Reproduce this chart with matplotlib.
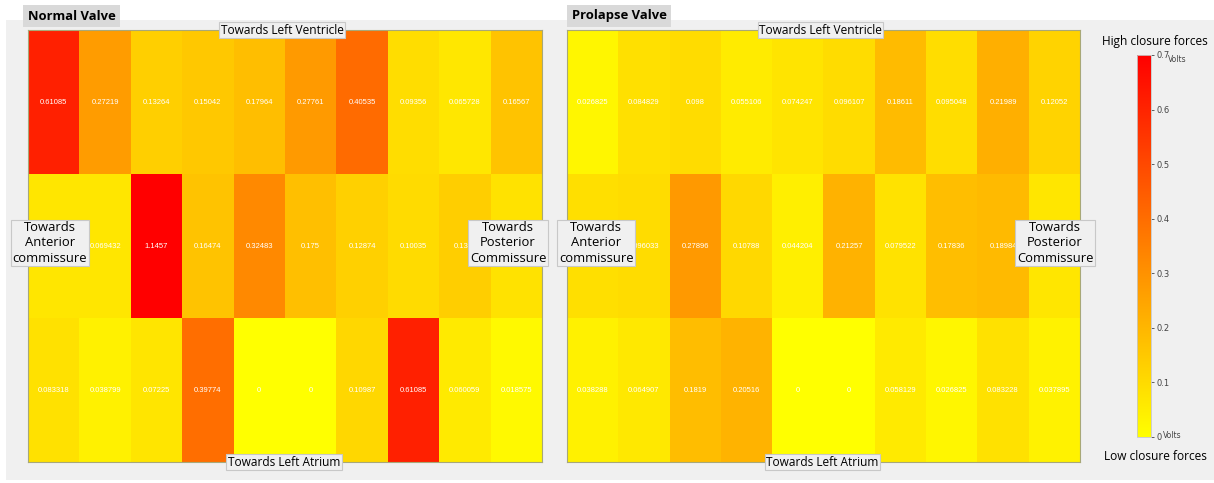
import matplotlib
matplotlib.use("Agg")
import matplotlib.pyplot as plt
import numpy as np
from matplotlib.patches import Rectangle

# ---- data ----
normal_top = [0.61085, 0.27219, 0.13264, 0.15042, 0.17964, 0.27761, 0.40535, 0.09356, 0.065728, 0.16567]
normal_mid = [0.07, 0.069432, 1.1457, 0.16474, 0.32483, 0.175, 0.12874, 0.10035, 0.1346, 0.08]
normal_bot = [0.083318, 0.038799, 0.07225, 0.39774, 0, 0, 0.10987, 0.61085, 0.060059, 0.018575]
prolapse_top = [0.026825, 0.084829, 0.098, 0.055106, 0.074247, 0.096107, 0.18611, 0.095048, 0.21989, 0.12052]
prolapse_mid = [0.09, 0.096033, 0.27896, 0.10788, 0.044204, 0.21257, 0.079522, 0.17836, 0.18984, 0.07]
prolapse_bot = [0.038288, 0.064907, 0.1819, 0.20516, 0, 0, 0.058129, 0.026825, 0.083228, 0.037895]
panel_titles = ["Normal Valve", "Prolapse Valve"]
cbar_ticks = [0, 0.1, 0.2, 0.3, 0.4, 0.5, 0.6, 0.7]
vmin, vmax = 0.0, 0.7

W, H = 1214, 483
fig = plt.figure(figsize=(W / 100, H / 100), dpi=100, facecolor="white")

def fx(px):
    return px / W

def fy(py):
    return 1 - py / H

# gray background panel
fig.patches.append(Rectangle((fx(6), fy(480)), fx(1214) - fx(6), fy(20) - fy(480),
                             transform=fig.transFigure, facecolor="#F0F0F0",
                             edgecolor="none", zorder=-10))

label_font = ["Open Sans", "DejaVu Sans"]
box_style = dict(boxstyle="square,pad=0.12", facecolor="#F0F0F0", edgecolor="#C8C8C8", linewidth=0.8)
side_box = dict(boxstyle="square,pad=0.12", facecolor="#F0F0F0", edgecolor="#C8C8C8", linewidth=0.8)

def draw_panel(left_px, right_px, data, title, ant_cx, post_cx, title_x):
    top_px, bot_px = 30, 462
    ax = fig.add_axes([fx(left_px), fy(bot_px), fx(right_px) - fx(left_px), fy(top_px) - fy(bot_px)])
    arr = np.array(data, dtype=float)
    ax.imshow(arr, cmap="autumn_r", vmin=vmin, vmax=vmax, aspect="auto",
              interpolation="nearest", extent=(-0.5, arr.shape[1] - 0.5, arr.shape[0] - 0.5, -0.5))
    for r in range(arr.shape[0]):
        for c in range(arr.shape[1]):
            ax.text(c, r, "{:.5g}".format(arr[r, c]), ha="center", va="center",
                    color="white", fontsize=5.5, family=["Liberation Sans", "DejaVu Sans"])
    ax.set_xticks([])
    ax.set_yticks([])
    for s in ax.spines.values():
        s.set_color("#A8A878")
        s.set_linewidth(0.8)
    cx = (left_px + right_px) / 2
    fig.text(fx(cx - 3), fy(30), "Towards Left Ventricle", ha="center", va="center",
             fontsize=8.6, family=label_font, bbox=box_style, zorder=5)
    fig.text(fx(cx - 1), fy(462), "Towards Left Atrium", ha="center", va="center",
             fontsize=8.6, family=label_font, bbox=box_style, zorder=5)
    fig.text(fx(ant_cx), fy(243), "Towards\nAnterior\ncommissure", ha="center", va="center",
             fontsize=9.4, family=label_font, bbox=side_box, linespacing=1.2, zorder=5)
    fig.text(fx(post_cx), fy(243), "Towards\nPosterior\nCommissure", ha="center", va="center",
             fontsize=9.4, family=label_font, bbox=side_box, linespacing=1.2, zorder=5)
    fig.text(fx(title_x), fy(16), title, ha="left", va="center", fontsize=9.4, fontweight="bold",
             family=label_font,
             bbox=dict(boxstyle="square,pad=0.35", facecolor="#D9D9D9", edgecolor="none"), zorder=5)
    return ax

draw_panel(28, 542, [normal_top, normal_mid, normal_bot], panel_titles[0], 50, 508, 28)
draw_panel(567, 1080, [prolapse_top, prolapse_mid, prolapse_bot], panel_titles[1], 596, 1055, 572)

# colorbar
cax = fig.add_axes([fx(1137), fy(437), fx(1151) - fx(1137), fy(55) - fy(437)])
sm = matplotlib.cm.ScalarMappable(norm=matplotlib.colors.Normalize(vmin, vmax), cmap="autumn_r")
cb = fig.colorbar(sm, cax=cax, ticks=cbar_ticks)
cb.outline.set_edgecolor("#C8C8C8")
cb.outline.set_linewidth(0.6)
cb.ax.tick_params(length=2, width=0.6, labelsize=6, colors="#444444", pad=2)
cb.ax.set_yticklabels(["{:g}".format(t) for t in cbar_ticks])
fig.text(fx(1168), fy(59), "Volts", fontsize=5.5, ha="left", va="center", color="#444444")
fig.text(fx(1163), fy(435), "Volts", fontsize=5.5, ha="left", va="center", color="#444444")
fig.text(fx(1155), fy(41), "High closure forces", ha="center", va="center", fontsize=8.6, family=label_font)
fig.text(fx(1155), fy(457), "Low closure forces", ha="center", va="center", fontsize=8.6, family=label_font)

fig.savefig("out.png", dpi=100, facecolor=fig.get_facecolor())
